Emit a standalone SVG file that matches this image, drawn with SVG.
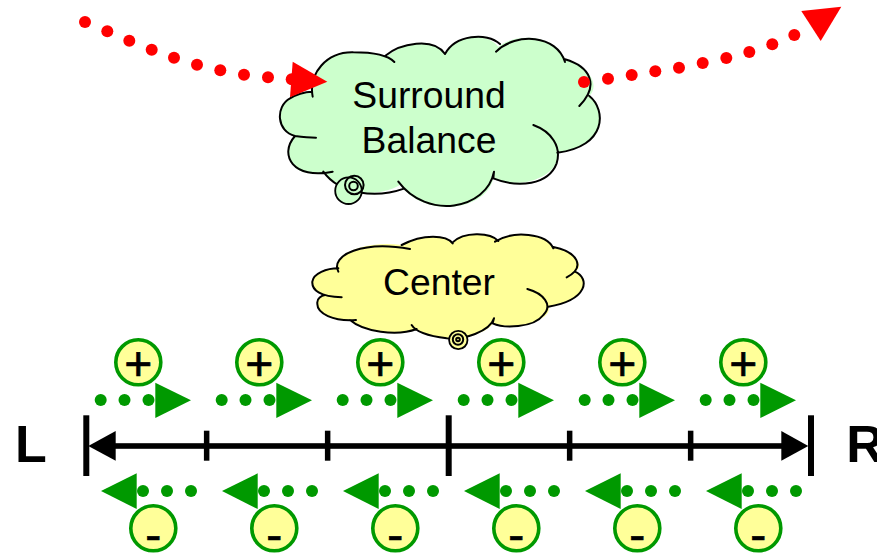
<svg xmlns="http://www.w3.org/2000/svg" width="877" height="556" viewBox="0 0 877 556">
<style>
text{font-family:"Liberation Sans",Arial,sans-serif;fill:#000;text-anchor:middle}
.lbl{font-size:37.3px}
.big{font-size:52px;font-weight:bold}
.sgn{font-size:48px;stroke:#000;stroke-width:.7}
.cf{stroke:none}
.co{fill:none;stroke:#000;stroke-width:6;stroke-linecap:round}
.ring{fill:none;stroke:#000;stroke-width:2}
.pm{fill:#ffff99;stroke:#009900;stroke-width:3.6}
.r{fill:#ff0000}
.g{fill:#009900}
.b{fill:#000}
</style>
<defs>
<g id="plus"><circle class="pm" cx="0" cy="0" r="22.5"/><text class="sgn" x="0" y="18">+</text></g>
<g id="minus"><circle class="pm" cx="0" cy="0" r="22.5"/><text class="sgn" x="0" y="23">-</text></g>
<g id="right"><circle class="g" cx="-37.6" cy="37.7" r="6"/><circle class="g" cx="-13.8" cy="37.7" r="6"/><circle class="g" cx="10.2" cy="37.7" r="6"/><path class="g" d="M17 20.4L52.7 38L17 55.7Z"/></g>
<g id="left"><circle class="g" cx="-10.3" cy="-37.3" r="6"/><circle class="g" cx="13.7" cy="-37.3" r="6"/><circle class="g" cx="37.7" cy="-37.3" r="6"/><path class="g" d="M-52.3 -37.3L-16.6 -55L-16.6 -19.3Z"/></g>
</defs>

<g id="cloud-surround">
<path fill="#ccffcc" class="cf" transform="translate(270 30) scale(.33333)" d="M128 190C120 130 170 65 250 67C290 67 330 75 350 80C390 40 490 20 525 70C560 15 650 5 685 50C740 5 860 15 885 90C960 110 990 165 958 198C1010 240 1010 350 862 368C875 430 760 485 670 445C650 540 470 570 390 465C320 505 210 495 160 425C70 450 30 375 75 318C20 305 15 230 60 205C75 190 105 185 128 190Z"/>
<path class="co" transform="translate(270 30) scale(.33333)" d="M128 200C115 130 170 65 250 67C300 67 350 72 373 96M345 78C390 40 490 20 525 72M525 72C555 15 650 5 690 42M678 65C740 5 860 15 885 96M885 88C960 110 990 165 928 228M958 198C1010 240 1010 350 862 368M790 285C845 305 875 350 860 400C835 465 745 475 670 445L672 425M672 425C650 540 470 570 385 455M402 476C320 505 210 495 160 425M188 425C70 450 25 375 75 318C90 320 115 323 138 323M75 318C20 305 15 230 60 205C75 195 105 185 125 185"/>
<circle cx="348.5" cy="190.7" r="13.3" fill="#ccffcc" stroke="#000" stroke-width="1.8"/>
<circle class="ring" cx="354.3" cy="185" r="9.3"/>
<circle class="ring" cx="353.5" cy="186" r="4.3"/>
<text class="lbl" x="429" y="108">Surround</text>
<text class="lbl" x="429" y="153">Balance</text>
</g>

<g id="cloud-center">
<path fill="#ffff99" class="cf" transform="translate(300 225) scale(.33333)" d="M115 130C100 90 190 45 305 60C370 25 440 30 458 52C490 20 570 20 595 48C640 15 740 25 760 68C830 80 855 125 825 140C870 160 865 225 745 245C760 280 660 320 578 295C570 320 490 345 440 340C400 335 360 325 350 312C290 335 190 320 150 285C100 290 50 265 52 235C50 220 65 212 75 210C35 200 25 170 45 155C60 140 90 132 115 130Z"/>
<path class="co" transform="translate(300 225) scale(.33333)" d="M115 140C90 90 190 45 330 72M305 60C370 25 440 30 458 55M458 52C490 20 570 20 595 48M585 50C640 15 740 25 760 70M760 66C830 80 860 125 800 157M825 140C870 160 865 225 745 245M682 192C730 205 760 240 730 270C700 310 610 310 578 295L582 280M582 280C570 320 490 345 440 340C400 335 350 325 335 300M350 312C290 335 190 320 150 285M168 285C100 290 50 265 52 235C50 220 65 212 75 210M125 217C60 215 35 195 37 170C40 145 80 130 115 130"/>
<circle cx="458.3" cy="340" r="9.2" fill="#ffff99" stroke="#000" stroke-width="1.8"/>
<circle class="ring" cx="458" cy="339.5" r="5.2"/>
<circle class="ring" cx="458" cy="339.5" r="1.8"/>
<text class="lbl" x="439" y="295">Center</text>
</g>

<g id="plus-1"><use href="#plus" x="138.3" y="362.3"/></g>
<g id="plus-2"><use href="#plus" x="259.3" y="362.3"/></g>
<g id="plus-3"><use href="#plus" x="380.3" y="362.3"/></g>
<g id="plus-4"><use href="#plus" x="501.3" y="362.3"/></g>
<g id="plus-5"><use href="#plus" x="622.3" y="362.3"/></g>
<g id="plus-6"><use href="#plus" x="743.3" y="362.3"/></g>
<g id="minus-1"><use href="#minus" x="153.3" y="528.3"/></g>
<g id="minus-2"><use href="#minus" x="274.3" y="528.3"/></g>
<g id="minus-3"><use href="#minus" x="395.3" y="528.3"/></g>
<g id="minus-4"><use href="#minus" x="516.3" y="528.3"/></g>
<g id="minus-5"><use href="#minus" x="637.3" y="528.3"/></g>
<g id="minus-6"><use href="#minus" x="758.3" y="528.3"/></g>
<g id="label-L"><text class="big" x="31" y="461.5">L</text></g>
<g id="label-R"><text class="big" x="865" y="461.5">R</text></g>

<g id="connectors">
<g id="red-left">
<circle class="r" cx="85" cy="22" r="6"/><circle class="r" cx="107.3" cy="31.3" r="6"/><circle class="r" cx="129.3" cy="40.7" r="6"/><circle class="r" cx="151.7" cy="49.7" r="6"/><circle class="r" cx="174" cy="57.7" r="6"/><circle class="r" cx="197" cy="64.7" r="6"/><circle class="r" cx="220.3" cy="70.3" r="6"/><circle class="r" cx="244" cy="74.7" r="6"/><circle class="r" cx="268" cy="77.3" r="6"/><circle class="r" cx="291.7" cy="79.3" r="6"/>
<path class="r" d="M292.7 61.7L327.3 81.7L290 97.3Z"/>
</g>
<g id="red-right">
<circle class="r" cx="584" cy="82" r="6"/><circle class="r" cx="608" cy="78.7" r="6"/><circle class="r" cx="631.7" cy="75" r="6"/><circle class="r" cx="655.3" cy="71.3" r="6"/><circle class="r" cx="679" cy="67.7" r="6"/><circle class="r" cx="702.7" cy="63" r="6"/><circle class="r" cx="726.3" cy="58" r="6"/><circle class="r" cx="749.3" cy="52" r="6"/><circle class="r" cx="772.3" cy="44.3" r="6"/><circle class="r" cx="794.3" cy="35" r="6"/>
<path class="r" d="M801.3 11L841.3 6.7L820.7 41Z"/>
</g>
<use href="#right" x="138.3" y="362.3"/><use href="#right" x="259.3" y="362.3"/><use href="#right" x="380.3" y="362.3"/><use href="#right" x="501.3" y="362.3"/><use href="#right" x="622.3" y="362.3"/><use href="#right" x="743.3" y="362.3"/>
<use href="#left" x="153.3" y="528.3"/><use href="#left" x="274.3" y="528.3"/><use href="#left" x="395.3" y="528.3"/><use href="#left" x="516.3" y="528.3"/><use href="#left" x="637.3" y="528.3"/><use href="#left" x="758.3" y="528.3"/>
<g id="axis">
<rect class="b" x="110" y="443.2" width="680" height="5.6"/>
<rect class="b" x="83.3" y="415.3" width="6" height="60.7"/>
<rect class="b" x="808" y="415.3" width="6" height="60.7"/>
<rect class="b" x="445.7" y="415.3" width="6" height="60.7"/>
<rect class="b" x="203.9" y="430.7" width="5.5" height="30"/>
<rect class="b" x="324.9" y="430.7" width="5.5" height="30"/>
<rect class="b" x="566.9" y="430.7" width="5.5" height="30"/>
<rect class="b" x="687.9" y="430.7" width="5.5" height="30"/>
<path class="b" d="M88.3 446L115.7 431L115.7 460.7Z"/>
<path class="b" d="M808.3 446L781.3 431L781.3 460.7Z"/>
</g>
</g>
</svg>
